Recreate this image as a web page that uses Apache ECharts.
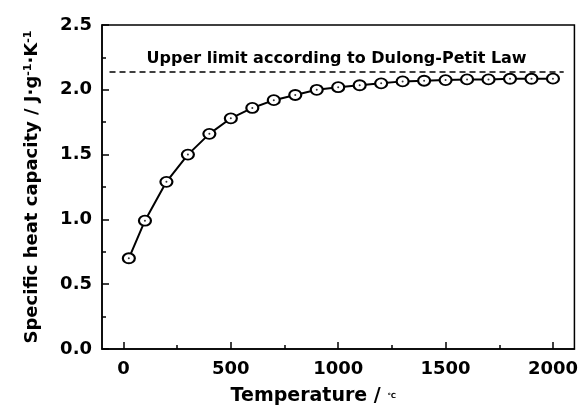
<!DOCTYPE html>
<html>
<head>
<meta charset="utf-8">
<script src="https://cdn.jsdelivr.net/npm/echarts@6/dist/echarts.min.js"></script>
<style>
  html, body { margin: 0; padding: 0; background: #fff; }
  #main { width: 581px; height: 411px; }
</style>
</head>
<body>
<div id="main"></div>
<script>
// 数据
var temps = [25, 100, 200, 300, 400, 500, 600, 700, 800, 900, 1000,
  1100, 1200, 1300, 1400, 1500, 1600, 1700, 1800, 1900, 2000];
var heatCap = [0.70, 0.99, 1.29, 1.50, 1.66, 1.78, 1.86, 1.92, 1.96, 2.00, 2.02,
  2.035, 2.05, 2.065, 2.07, 2.075, 2.08, 2.08, 2.085, 2.085, 2.086];
var dulongPetit = 2.14;
var xTicks = [0, 500, 1000, 1500, 2000];
var xMinorTicks = [250, 750, 1250, 1750];

var font = 'DejaVu Sans';
var points = temps.map(function(t, i) { return [t, heatCap[i]]; });

var myChart = echarts.init(document.getElementById('main'));
var option = {
  animation: false,
  grid: {
    left: 102, right: 5, top: 25, bottom: 60,
    show: true, borderColor: '#000', borderWidth: 1.5
  },
  xAxis: [{
    type: 'value', min: -100, max: 2100,
    name: 'Temperature / {c|℃}',
    nameLocation: 'middle', nameGap: 38,
    nameTextStyle: {
      fontFamily: font, fontWeight: 'bold', fontSize: 19, color: '#000',
      padding: [0, 50, 0, 0],
      rich: { c: { fontSize: 7, fontFamily: font, color: '#000' } }
    },
    axisLine: { show: true, onZero: false, lineStyle: { color: '#000', width: 1.5 } },
    axisTick: { show: true, inside: true, length: 7, customValues: xTicks,
      lineStyle: { color: '#000', width: 1.5 } },
    axisLabel: { customValues: xTicks, fontFamily: font, fontWeight: 'bold',
      fontSize: 18, color: '#000', margin: 11,
      formatter: function(v) { return String(v); } },
    splitLine: { show: false }
  }, {
    type: 'value', min: -100, max: 2100, position: 'bottom',
    axisLine: { show: false, onZero: false },
    axisTick: { show: true, inside: true, length: 4, customValues: xMinorTicks,
      lineStyle: { color: '#000', width: 1.5 } },
    axisLabel: { show: false },
    splitLine: { show: false }
  }],
  yAxis: {
    type: 'value', min: 0, max: 2.5, interval: 0.5,
    name: 'Specific heat capacity / J·g{sup|-1}·K{sup|-1}',
    nameLocation: 'middle', nameGap: 60,
    nameTextStyle: {
      fontFamily: font, fontWeight: 'bold', fontSize: 18, color: '#000',
      rich: {
        sup: { fontFamily: font, fontWeight: 'bold', fontSize: 11, color: '#000',
          verticalAlign: 'top', padding: [0, 0, 8, 0] }
      }
    },
    axisLine: { show: true, onZero: false, lineStyle: { color: '#000', width: 1.5 } },
    axisTick: { show: true, inside: true, length: 7,
      lineStyle: { color: '#000', width: 1.5 } },
    minorTick: { show: true, splitNumber: 2, length: 4,
      lineStyle: { color: '#000', width: 1.5 } },
    axisLabel: { fontFamily: font, fontWeight: 'bold', fontSize: 18, color: '#000',
      margin: 10, formatter: function(v) { return v.toFixed(1); } },
    splitLine: { show: false }
  },
  series: [{
    name: 'cp', type: 'line', data: points,
    symbol: 'emptyCircle', symbolSize: [12, 10], showSymbol: true,
    showAllSymbol: true,
    lineStyle: { color: '#000', width: 2 },
    itemStyle: { color: '#000', borderColor: '#000', borderWidth: 1.8 },
    z: 3,
    markLine: {
      silent: true, symbol: 'none',
      lineStyle: { color: '#000', width: 1.5, type: [6, 4] },
      label: {
        show: true, position: 'insideMiddleTop', distance: 5,
        formatter: 'Upper limit according to Dulong-Petit Law',
        fontFamily: font, fontWeight: 'bold', fontSize: 16, color: '#000'
      },
      data: [[{ coord: [-65, dulongPetit] }, { coord: [2050, dulongPetit] }]]
    }
  }, {
    // 圆圈中心的小点
    name: 'dot', type: 'scatter', data: points,
    symbol: 'circle', symbolSize: 2,
    itemStyle: { color: '#000' }, z: 4
  }]
};
myChart.setOption(option);
</script>
</body>
</html>
